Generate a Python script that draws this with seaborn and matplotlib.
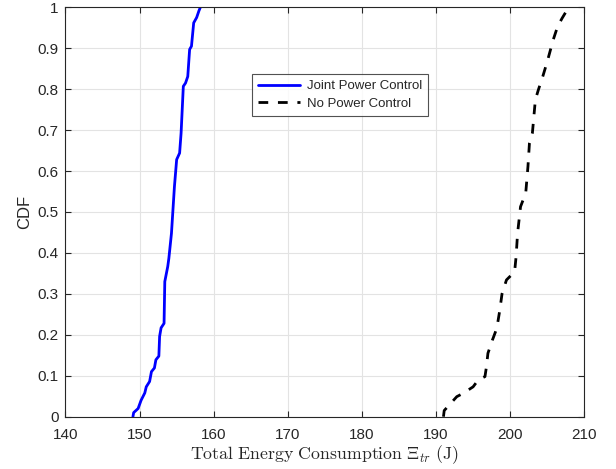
import matplotlib
matplotlib.use("Agg")
import matplotlib.pyplot as plt
import seaborn as sns

joint_energy = [149.1, 149.2, 149.8, 150.2, 150.7, 150.9, 151.35, 151.6, 152.0, 152.2,
                152.6, 152.7, 152.9, 153.3, 153.4, 153.8, 153.95, 154.3, 154.5, 154.7,
                155.0, 155.4, 155.6, 155.9, 156.2, 156.5, 156.75, 157.0, 157.3, 157.7,
                158.0, 158.2]
joint_cdf = [0.0, 0.01, 0.02, 0.04, 0.058, 0.073, 0.086, 0.11, 0.119, 0.139,
             0.148, 0.196, 0.217, 0.228, 0.33, 0.367, 0.387, 0.448, 0.505, 0.562,
             0.628, 0.644, 0.693, 0.807, 0.815, 0.831, 0.897, 0.905, 0.962, 0.975,
             0.991, 1.0]

# No power control (black dashed)
nopc_energy = [191.0, 191.1, 192.8, 193.65, 195.0, 195.7, 196.6, 196.8, 197.0, 197.6,
               198.2, 198.6, 198.9, 199.5, 200.6, 200.8, 201.0, 201.4, 202.1, 202.4,
               202.6, 203.0, 203.4, 203.8, 204.4, 205.0, 205.8, 206.4, 207.0, 207.9]
nopc_cdf = [0.0, 0.015, 0.049, 0.057, 0.073, 0.09, 0.098, 0.122, 0.155, 0.187,
            0.216, 0.26, 0.30, 0.334, 0.354, 0.391, 0.448, 0.513, 0.546, 0.611,
            0.668, 0.693, 0.774, 0.798, 0.831, 0.867, 0.92, 0.953, 0.973, 1.0]

x_ticks = list(range(140, 211, 10))
y_ticks = [round(0.1 * i, 1) for i in range(11)]
y_ticklabels = ["0", "0.1", "0.2", "0.3", "0.4", "0.5", "0.6", "0.7", "0.8", "0.9", "1"]

sns.set_theme(style="white")
plt.rcParams["font.family"] = ["Liberation Sans", "DejaVu Sans"]
plt.rcParams["mathtext.fontset"] = "cm"

fig = plt.figure(figsize=(6.16, 4.69), dpi=100)
ax = fig.add_axes([0.1063, 0.1115, 0.8422, 0.873])

sns.lineplot(x=joint_energy, y=joint_cdf, sort=False, color="#0000ff", lw=2,
             label="Joint Power Control", ax=ax)
sns.lineplot(x=nopc_energy, y=nopc_cdf, sort=False, color="black", lw=2,
             linestyle=(0, (3.5, 3.5)), label="No Power Control", ax=ax)

ax.set_xlim(140, 210)
ax.set_ylim(0, 1)
ax.set_xticks(x_ticks)
ax.set_yticks(y_ticks)
ax.set_yticklabels(y_ticklabels)
ax.grid(True, color="#e3e3e3", lw=0.8)
ax.set_axisbelow(True)
ax.tick_params(direction="in", length=4, width=0.8, color="#262626",
               labelsize=11, labelcolor="#262626", top=True, right=True,
               bottom=True, left=True)
ax.tick_params(axis="x", pad=8)
ax.tick_params(axis="y", pad=5)
for sp in ax.spines.values():
    sp.set_visible(True)
    sp.set_color("#262626")
    sp.set_linewidth(0.8)

ax.set_xlabel(r"$\mathrm{Total\ Energy\ Consumption}\ \Xi_{tr}\ \mathrm{(J)}$",
              fontsize=12.8, color="#262626", labelpad=1)
ax.set_ylabel("CDF", fontsize=12, color="#262626", labelpad=4)

leg = ax.legend(loc="upper left", bbox_to_anchor=(0.3595, 0.837), fontsize=9.5,
                frameon=True, fancybox=False, handlelength=3.2, borderpad=0.45,
                labelspacing=0.4, handletextpad=0.5, borderaxespad=0)
leg.get_frame().set_edgecolor("#262626")
leg.get_frame().set_linewidth(0.8)

fig.savefig("out.png", dpi=100)
